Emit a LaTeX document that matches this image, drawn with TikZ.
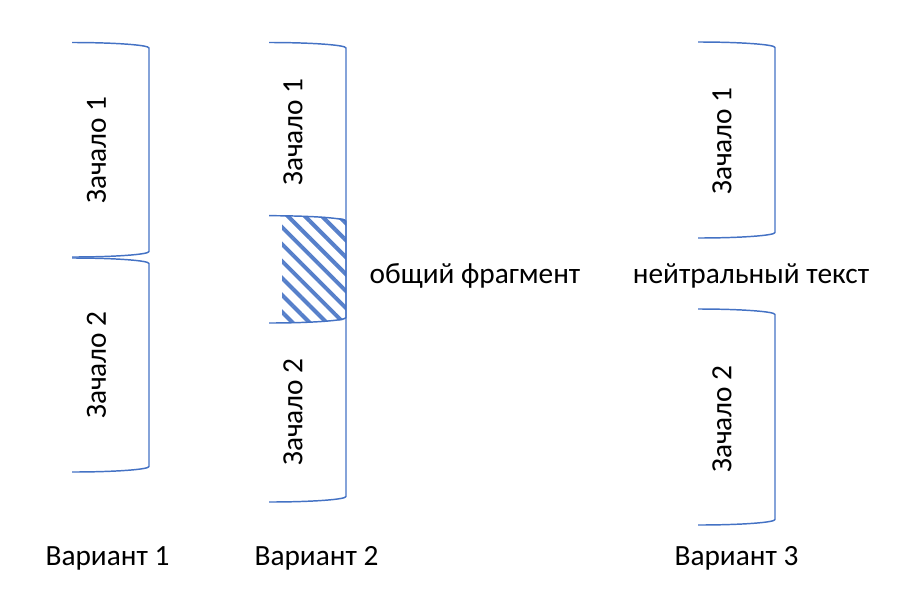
\documentclass[tikz,border=0pt]{standalone}
\usepackage{fontspec}
\setmainfont{Carlito}
\usetikzlibrary{patterns.meta, positioning}
\definecolor{wordblue}{RGB}{68,114,196}
\tikzstyle{brace} = [draw=wordblue, line width=1.1pt]
\tikzstyle{hatch} = [pattern={Lines[angle=-45, distance=9pt, line width=3pt]},
    pattern color=wordblue!90]
\tikzstyle{txt} = [inner sep=0pt, font=\fontsize{22}{26}\selectfont]
\tikzstyle{vtxt} = [txt, rotate=90]
% right bracket: left x, top y, right x, bottom y
\newcommand{\drawbrack}[4]{%
  \draw [brace] (#1,#2) .. controls ({#1+0.55*(#3-#1)},#2) and (#3,{#2+2.5}) .. (#3,{#2+5.5})
    -- (#3,{#4-5.5}) .. controls (#3,{#4-2.5}) and ({#1+0.55*(#3-#1)},#4) .. (#1,#4);}

\begin{document}
\begin{tikzpicture}[x=0.75pt, y=-0.75pt]
    \useasboundingbox (0,0) rectangle (912,607);

    % Variant 1: two brackets one under the other
    \drawbrack{72}{42.5}{149}{257}
    \drawbrack{72}{258}{149}{472}
    \node [vtxt] (v1a) at (96.5,150) {Зачало 1};
    \node [vtxt] (v1b) at (96.5,365) {Зачало 2};
    \node [txt, anchor=base] (var1) at (107.5,565) {Вариант 1};

    % Variant 2: one long bracket with a shared hatched piece
    \begin{scope}
      \clip (282,200) rectangle (346,340);
      \fill [hatch] (269,215.7) .. controls (311,215.7) and (346,217.5) .. (346,219.7)
        -- (346,319) .. controls (346,321) and (311,323) .. (269,323) -- cycle;
    \end{scope}
    \drawbrack{269}{215.7}{346}{323}
    \drawbrack{269}{42.5}{346}{502}
    \node [vtxt] (v2a) at (293,132) {Зачало 1};
    \node [vtxt] (v2b) at (293,412) {Зачало 2};
    \node [txt, anchor=base] (common) at (475,283) {общий фрагмент};
    \node [txt, anchor=base] (var2) at (316.5,565) {Вариант 2};

    % Variant 3: two brackets with a gap between them
    \drawbrack{698}{42}{775}{238}
    \drawbrack{698}{309}{775}{525}
    \node [vtxt] (v3a) at (722,141) {Зачало 1};
    \node [vtxt] (v3b) at (722,419) {Зачало 2};
    \node [txt, anchor=base] (neutral) at (751,283) {нейтральный текст};
    \node [txt, anchor=base] (var3) at (736.5,565) {Вариант 3};
\end{tikzpicture}
\end{document}
